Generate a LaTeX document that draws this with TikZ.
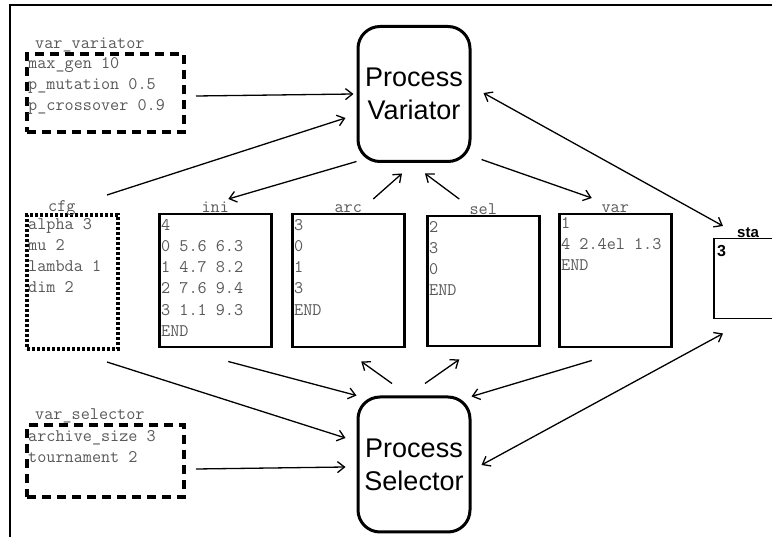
\documentclass[tikz,border=0pt]{standalone}
\usepackage{fontspec}
\newfontfamily\sansfont{Liberation Sans}
\usetikzlibrary{shapes,arrows.meta,calc,positioning}

\begin{document}
\begin{tikzpicture}[x=1pt, y=-1pt,
  >={Straight Barb[length=7pt,width=11pt]},
  proc/.style={draw=black, line width=3pt, rounded corners=22pt, minimum width=112pt, minimum height=135pt, inner sep=0pt, align=center, font=\sansfont\fontsize{27}{33}\selectfont},
  file/.style={draw=black, line width=2.5pt, minimum width=112pt, minimum height=133pt, anchor=north west, inner sep=0pt},
  param/.style={draw=black, line width=4pt, dash pattern=on 9pt off 6pt, anchor=north west, inner sep=0pt},
  txt/.style={anchor=north west, inner sep=0pt, align=left, text=black!65, font=\ttfamily\fontsize{17.7}{21.2}\selectfont, execute at begin node=\strut},
  lbl/.style={anchor=base, inner sep=0pt, text=black!65, font=\ttfamily\fontsize{17.7}{21.2}\selectfont},
  link/.style={->, line width=1.3pt}]
  \useasboundingbox (0,0) rectangle (772,537);
  \draw[line width=2.5pt] (10,537) -- (10,5) -- (772,5);

  % processes
  \node[proc] (pv) at (414,94) {Process\\Variator};
  \node[proc] (ps) at (414,464.5) {Process\\Selector};

  % parameter files
  \node[param, minimum width=157pt, minimum height=78pt] (vv) at (25,52) {};
  \node[param, minimum width=157pt, minimum height=72pt] (vs) at (25,423) {};
  \node[param, dash pattern=on 3pt off 2pt, minimum width=91pt, minimum height=134pt] (cfg) at (25,213) {};
  \node[txt] (vv-txt) at ([shift={(3,5)}]vv.north west) {max\_gen 10\\p\_mutation 0.5\\p\_crossover 0.9};
  \node[txt] (vs-txt) at ([shift={(3,7)}]vs.north west) {archive\_size 3\\tournament 2};
  \node[txt] (cfg-txt) at ([shift={(3,5)}]cfg.north west) {alpha 3\\mu 2\\lambda 1\\dim 2};
  \node[lbl, anchor=base west] (vv-lbl) at ([shift={(10,-3)}]vv.north west) {var\_variator};
  \node[lbl, anchor=base west] (vs-lbl) at ([shift={(10,-3)}]vs.north west) {var\_selector};
  \node[lbl, anchor=base west] (cfg-lbl) at ([shift={(23,-1)}]cfg.north west) {cfg};

  % data files
  \node[file] (ini) at (158,213) {};
  \node[file] (arc) at (291,213) {};
  \node[file, minimum height=130pt] (sel) at (426,215) {};
  \node[file] (var) at (558,213) {};
  \node[draw=black, line width=1.5pt, minimum width=90pt, minimum height=80pt, anchor=north west, inner sep=0pt] (sta) at (713,238) {};
  \node[txt] (ini-txt) at ([shift={(3,6)}]ini.north west) {4\\0 5.6 6.3\\1 4.7 8.2\\2 7.6 9.4\\3 1.1 9.3\\END};
  \node[txt] (arc-txt) at ([shift={(3,6)}]arc.north west) {3\\0\\1\\3\\END};
  \node[txt] (sel-txt) at ([shift={(3,6)}]sel.north west) {2\\3\\0\\END};
  \node[txt] (var-txt) at ([shift={(3,4)}]var.north west) {1\\4 2.4el 1.3\\END};
  \node[anchor=base west, inner sep=0pt, font=\sansfont\bfseries\fontsize{16}{18}\selectfont] (sta-txt) at ([shift={(4,19)}]sta.north west) {3};
  \node[lbl] (ini-lbl) at (ini.north) {ini};
  \node[lbl] (arc-lbl) at (arc.north) {arc};
  \node[lbl] (sel-lbl) at (sel.north) {sel};
  \node[lbl] (var-lbl) at (var.north) {var};
  \node[lbl, text=black, font=\sansfont\bfseries\fontsize{15}{18}\selectfont] (sta-lbl) at ([shift={(35,0)}]sta.north west) {sta};

  % variator links
  \draw[link] ([shift={(10,3)}]vv.east) -- ([shift={(-3,0)}]pv.west);
  \draw[link] ([shift={(-13,-18)}]cfg.north east) -- ([shift={(-11,24)}]pv.west);
  \draw[link] ([shift={(0,-1.5)}]pv.south west) -- ([shift={(13,-14)}]ini.north);
  \draw[link] ([shift={(25,-14)}]arc.north) -- ([shift={(-12,10.5)}]pv.south);
  \draw[link] ([shift={(-24,-16)}]sel.north) -- ([shift={(11,10.5)}]pv.south);
  \draw[link] ([shift={(10,-3.5)}]pv.south east) -- ([shift={(-23.5,-15)}]var.north);
  \draw[link, <->] ([shift={(12,-1)}]pv.east) -- ([shift={(10,-12)}]sta.north west);

  % selector links
  \draw[link] ([shift={(10,8)}]vs.east) -- ([shift={(-11,2.5)}]ps.west);
  \draw[link] ([shift={(-13,11)}]cfg.south east) -- ([shift={(-11,-26.5)}]ps.west);
  \draw[link] ([shift={(13,13)}]ini.south) -- (ps.north west);
  \draw[link] ([shift={(-22,-12)}]ps.north) -- ([shift={(13,13)}]arc.south);
  \draw[link] ([shift={(11,-12)}]ps.north) -- ([shift={(-24,12)}]sel.south);
  \draw[link] ([shift={(-23.5,12)}]var.south) -- ([shift={(0,1)}]ps.north east);
  \draw[link, <->] ([shift={(10,0.5)}]ps.east) -- ([shift={(10,14)}]sta.south west);
\end{tikzpicture}
\end{document}
